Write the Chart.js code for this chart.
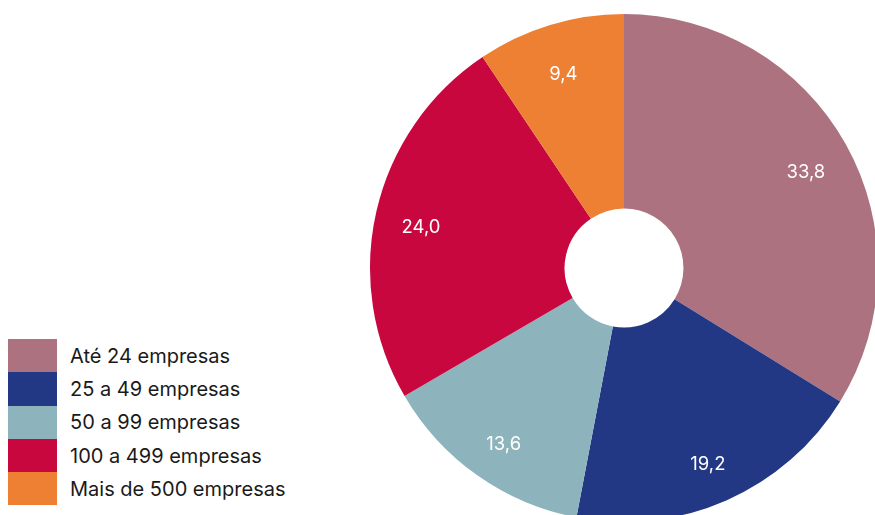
<!DOCTYPE html>
<html>
<head>
<meta charset="utf-8">
<script src="https://cdn.jsdelivr.net/npm/chart.js@4.4.1/dist/chart.umd.min.js"></script>
<style>
  html, body { margin: 0; padding: 0; background: #fff; overflow: hidden; width: 875px; height: 515px; }
  #wrap { position: absolute; left: 364px; top: 8px; width: 520px; height: 520px; }
  #legend { position: absolute; left: 8px; top: 339px; font-family: "Inter", sans-serif; font-size: 20px; color: #1a1a1a; }
  .item { display: flex; align-items: center; height: 33.3px; }
  .box { width: 49px; height: 33.3px; margin-right: 13px; }
</style>
</head>
<body>
<div id="wrap"><canvas id="pieChart"></canvas></div>
<div id="legend"></div>
<script>
const labels = ["Até 24 empresas", "25 a 49 empresas", "50 a 99 empresas", "100 a 499 empresas", "Mais de 500 empresas"];
const values = [33.8, 19.2, 13.6, 24.0, 9.4];
const colors = ['#AC7280', '#233884', '#8DB4BC', '#C8073F', '#EE8034'];

// legend html
const legend = document.getElementById('legend');
labels.forEach((lab, i) => {
  const row = document.createElement('div');
  row.className = 'item';
  row.innerHTML = '<span class="box" style="background:' + colors[i] + '"></span><span>' + lab + '</span>';
  legend.appendChild(row);
});

// draw values inside the slices
const sliceLabels = {
  id: 'sliceLabels',
  afterDatasetsDraw(chart) {
    const ctx = chart.ctx;
    const meta = chart.getDatasetMeta(0);
    ctx.save();
    ctx.fillStyle = '#fff';
    ctx.font = '18.5px Inter, sans-serif';
    ctx.textAlign = 'center';
    ctx.textBaseline = 'middle';
    meta.data.forEach((arc, i) => {
      const p = arc.getProps(['x', 'y', 'startAngle', 'endAngle', 'outerRadius'], true);
      const a = (p.startAngle + p.endAngle) / 2;
      const r = p.outerRadius * 0.82;
      ctx.fillText(values[i].toFixed(1).replace('.', ','), p.x + Math.cos(a) * r, p.y + Math.sin(a) * r + 6);
    });
    ctx.restore();
  }
};

const ctx = document.getElementById('pieChart').getContext('2d');
const pieChart = new Chart(ctx, {
  type: 'doughnut',
  data: {
    labels: labels,
    datasets: [{
      data: values,
      backgroundColor: colors,
      borderWidth: 0
    }]
  },
  options: {
    responsive: true,
    maintainAspectRatio: false,
    animation: false,
    cutout: '23.4%',
    layout: { padding: 6 },
    plugins: {
      legend: { display: false },
      tooltip: { enabled: false }
    }
  },
  plugins: [sliceLabels]
});
</script>
</body>
</html>
